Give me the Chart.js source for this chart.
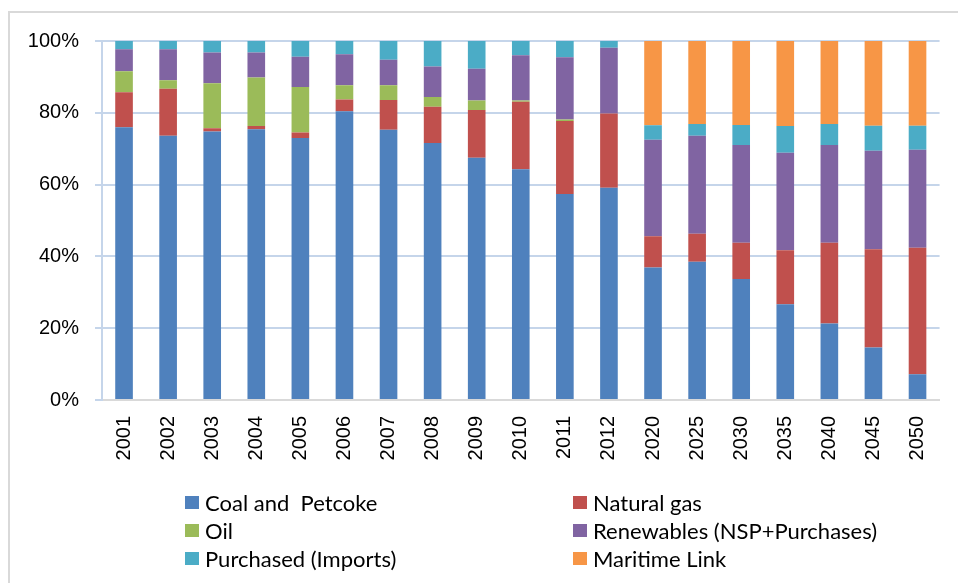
<!DOCTYPE html>
<html>
<head>
<meta charset="utf-8">
<script src="https://cdn.jsdelivr.net/npm/chart.js@4"></script>
<style>
  html, body { margin: 0; padding: 0; background: #fff; }
  #wrap { position: relative; width: 958px; height: 583px; overflow: hidden; }
  #frame { position: absolute; left: 8px; top: 11px; width: 1000px; height: 640px; border: 2px solid #d9d9d9; box-sizing: border-box; }
  #chart { position: absolute; left: 0; top: 0; }
  .lg { position: absolute; font-family: Lato, "Noto Sans", sans-serif; font-size: 22px; color: #000; line-height: 28px; white-space: pre; }
  .lg span { position: absolute; left: -20px; top: 7px; width: 14px; height: 13px; }
</style>
</head>
<body>
<div id="wrap">
  <div id="frame"></div>
  <canvas id="chart" width="958" height="583"></canvas>
  <div id="legend"></div>
</div>
<script>
// ---------- DATA ----------
const years = ["2001", "2002", "2003", "2004", "2005", "2006", "2007", "2008", "2009", "2010",
  "2011", "2012", "2020", "2025", "2030", "2035", "2040", "2045", "2050"];

const coal = [76.0, 73.6, 74.8, 75.4, 73.0, 80.4, 75.3, 71.6, 67.5, 64.3, 57.4, 59.1, 36.9, 38.5, 33.7, 26.7, 21.3, 14.6, 7.2];
const gas = [9.7, 13.1, 0.9, 0.9, 1.5, 3.3, 8.3, 10.1, 13.3, 18.8, 20.3, 20.7, 8.7, 7.8, 10.1, 15.0, 22.5, 27.4, 35.2];
const oil = [5.9, 2.4, 12.5, 13.5, 12.7, 4.0, 4.1, 2.7, 2.6, 0.3, 0.4, 0, 0, 0, 0, 0, 0, 0, 0];
const renewables = [6.1, 8.6, 8.6, 7.0, 8.4, 8.6, 7.1, 8.5, 8.9, 12.6, 17.4, 18.3, 26.9, 27.3, 27.2, 27.2, 27.2, 27.4, 27.3];
const purchased = [2.3, 2.3, 3.2, 3.2, 4.4, 3.7, 5.2, 7.1, 7.7, 4.0, 4.5, 1.9, 4.0, 3.3, 5.6, 7.4, 5.9, 7.0, 6.7];
const maritime = [0, 0, 0, 0, 0, 0, 0, 0, 0, 0, 0, 0, 23.5, 23.1, 23.4, 23.7, 23.1, 23.6, 23.6];

const yTicks = [0, 20, 40, 60, 80, 100];

const seriesNames = ["Coal and  Petcoke", "Natural gas", "Oil", "Renewables (NSP+Purchases)", "Purchased (Imports)", "Maritime Link"];
const seriesColors = ["#4f81bd", "#c0504d", "#9bbb59", "#8064a2", "#4bacc6", "#f79646"];
const seriesData = [coal, gas, oil, renewables, purchased, maritime];

// ---------- CHART ----------
const datasets = seriesData.map((d, i) => ({
  label: seriesNames[i],
  data: d,
  backgroundColor: seriesColors[i],
  borderWidth: 0,
  categoryPercentage: 1,
  barPercentage: 0.4,
}));

new Chart(document.getElementById("chart"), {
  type: "bar",
  data: { labels: years, datasets },
  options: {
    responsive: false,
    animation: false,
    layout: { padding: { top: 41, right: 18, left: 0, bottom: 0 } },
    plugins: { legend: { display: false }, tooltip: { enabled: false } },
    scales: {
      x: {
        stacked: true,
        grid: { display: true, drawOnChartArea: false, drawTicks: false },
        border: { display: true, color: "#d9d9d9", width: 2 },
        ticks: {
          minRotation: 90,
          maxRotation: 90,
          padding: 16,
          color: "#000",
          font: { family: "Liberation Sans", size: 20 },
        },
        afterFit: (s) => { s.height = 183; },
      },
      y: {
        stacked: true,
        min: 0,
        max: 100,
        afterBuildTicks: (s) => { s.ticks = yTicks.map((v) => ({ value: v })); },
        grid: { color: "#c5d5ea", lineWidth: 2, tickLength: 7 },
        border: { display: true, color: "#c5d5ea", width: 2 },
        ticks: {
          padding: 16,
          color: "#000",
          font: { family: "Liberation Sans", size: 20 },
          callback: (v) => v + "%",
        },
        afterFit: (s) => { s.width = 102; },
      },
    },
  },
});

// ---------- LEGEND ----------
const legendX = [205, 593];
const legendY = [489, 517, 545];
const legendEl = document.getElementById("legend");
seriesNames.forEach((name, i) => {
  const item = document.createElement("div");
  item.className = "lg";
  item.style.left = legendX[i % 2] + "px";
  item.style.top = legendY[Math.floor(i / 2)] + "px";
  item.textContent = name;
  const sw = document.createElement("span");
  sw.style.background = seriesColors[i];
  item.appendChild(sw);
  legendEl.appendChild(item);
});
</script>
</body>
</html>
